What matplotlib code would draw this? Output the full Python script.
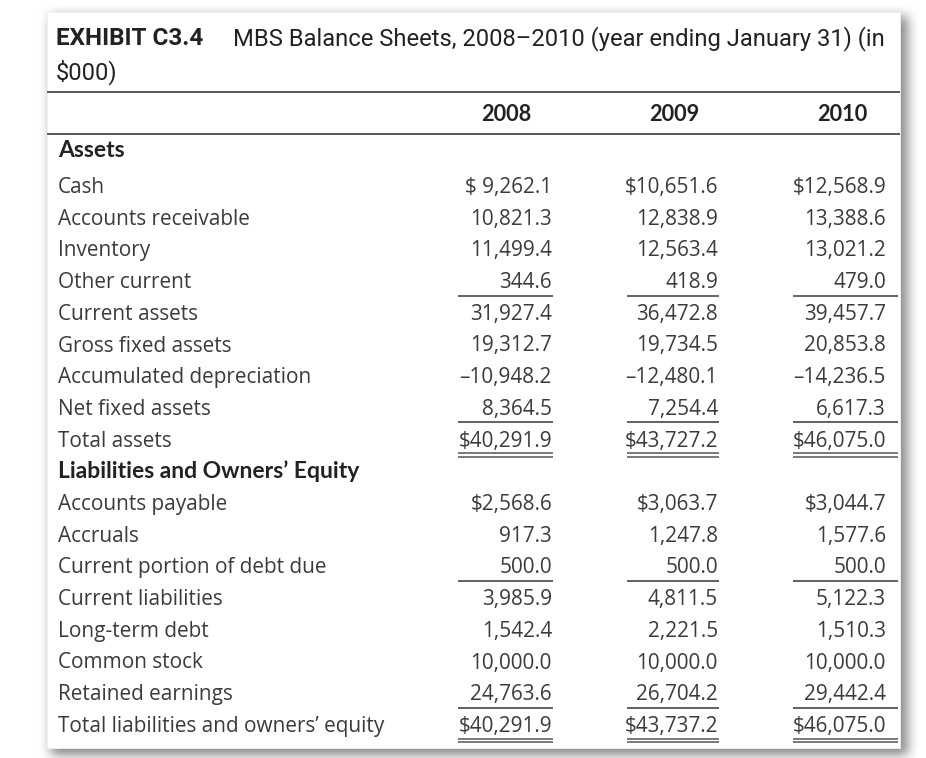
import numpy as np
import matplotlib.pyplot as plt

# ------------------------------------------------------------
# data
years = ["2008", "2009", "2010"]

row_labels = [
    "Assets",
    "Cash",
    "Accounts receivable",
    "Inventory",
    "Other current",
    "Current assets",
    "Gross fixed assets",
    "Accumulated depreciation",
    "Net fixed assets",
    "Total assets",
    "Liabilities and Owners\u2019 Equity",
    "Accounts payable",
    "Accruals",
    "Current portion of debt due",
    "Current liabilities",
    "Long-term debt",
    "Common stock",
    "Retained earnings",
    "Total liabilities and owners\u2019 equity",
]

vals_2008 = [None, 9262.1, 10821.3, 11499.4, 344.6, 31927.4, 19312.7, -10948.2, 8364.5, 40291.9,
             None, 2568.6, 917.3, 500.0, 3985.9, 1542.4, 10000.0, 24763.6, 40291.9]
vals_2009 = [None, 10651.6, 12838.9, 12563.4, 418.9, 36472.8, 19734.5, -12480.1, 7254.4, 43727.2,
             None, 3063.7, 1247.8, 500.0, 4811.5, 2221.5, 10000.0, 26704.2, 43737.2]
vals_2010 = [None, 12568.9, 13388.6, 13021.2, 479.0, 39457.7, 20853.8, -14236.5, 6617.3, 46075.0,
             None, 3044.7, 1577.6, 500.0, 5122.3, 1510.3, 10000.0, 29442.4, 46075.0]

section_rows = ["Assets", "Liabilities and Owners\u2019 Equity"]
dollar_rows = ["Cash", "Total assets", "Accounts payable", "Total liabilities and owners\u2019 equity"]
single_rule_rows = ["Other current", "Net fixed assets", "Current portion of debt due", "Retained earnings"]
double_rule_rows = ["Total assets", "Total liabilities and owners\u2019 equity"]

title_bold = "EXHIBIT C3.4"
title_rest = "MBS Balance Sheets, 2008\u20132010 (year ending January 31) (in"
title_line2 = "$000)"

# ------------------------------------------------------------
W, H = 926, 758
fig = plt.figure(figsize=(W / 100, H / 100), dpi=100)
ax = fig.add_axes([0, 0, 1, 1])
ax.set_xlim(0, W)
ax.set_ylim(H, 0)
ax.axis("off")
renderer = fig.canvas.get_renderer()


def text_w(t):
    return t.get_window_extent(renderer=renderer).width


# card + soft shadow
card = (47, 12, 900, 748)  # x0, y0, x1, y1
yy, xx = np.mgrid[0:H, 0:W]
mask = ((xx >= card[0] + 4) & (xx <= card[2] + 7) & (yy >= card[1] + 4) & (yy <= card[3] + 7)).astype(float)
k = np.ones(13) / 13
for _ in range(2):
    mask = np.apply_along_axis(lambda r: np.convolve(r, k, mode="same"), 1, mask)
    mask = np.apply_along_axis(lambda c: np.convolve(c, k, mode="same"), 0, mask)
shadow = 1 - 0.45 * mask
ax.imshow(np.dstack([shadow] * 3), extent=(0, W, H, 0), zorder=0, interpolation="bilinear")
ax.add_patch(plt.Rectangle((card[0], card[1]), card[2] - card[0], card[3] - card[1],
                           facecolor="white", edgecolor="#f2f2f2", lw=0.6, zorder=1))

title_font = "Roboto"
body_font = "Open Sans"
bold_font = "Lato"
txt_col = "#3b3b3b"
dark = "#222222"
rule_col = "#555555"

# title: fit size so that the bold part is ~148 px and the line ends near x=886
t1 = ax.text(56, 45, title_bold, fontsize=17, fontweight="bold", family=title_font,
             color=dark, va="baseline", ha="left", zorder=3)
t1.set_fontsize(17 * 148 / text_w(t1))
t2 = ax.text(233, 45, title_rest, fontsize=17, family=title_font,
             color=dark, va="baseline", ha="left", zorder=3)
t2.set_fontsize(17 * (886 - 233) / text_w(t2))
ax.text(56, 79, title_line2, fontsize=t2.get_fontsize(), family=title_font,
        color=dark, va="baseline", ha="left", zorder=3)

# top rules
ax.plot([card[0], card[2]], [92, 92], color=rule_col, lw=1.4, zorder=3, solid_capstyle="butt")
ax.plot([card[0], card[2]], [134, 134], color=rule_col, lw=1.4, zorder=3, solid_capstyle="butt")

# body font size fitted on the longest label (~325 px in the reference)
probe = ax.text(0, 0, row_labels[-1], fontsize=13, family=body_font)
fs = 13 * 325 / text_w(probe)
probe.remove()
# bold section label fitted (~302 px in the reference)
probe = ax.text(0, 0, section_rows[1], fontsize=13, fontweight="bold", family=bold_font)
fsb = 13 * 302 / text_w(probe)
probe.remove()

# column geometry
col_right = [552, 718, 886]
head_right = [531, 699, 867]
rule_span = [(458, 553), (627, 719), (793, 898)]

for yr, xr in zip(years, head_right):
    ax.text(xr, 121, yr, fontsize=fsb * 0.95, fontweight="bold", family=bold_font, color=dark,
            ha="right", va="baseline", zorder=3)


def fmt(v, dollar, pad):
    s = f"{abs(v):,.1f}"
    if v < 0:
        s = "\u2013" + s
    if dollar:
        s = ("$ " if pad else "$") + s
    return s


cols = [vals_2008, vals_2009, vals_2010]
first_base, dy = 193, 31.7
for i, lab in enumerate(row_labels):
    y = 157 if i == 0 else first_base + (i - 1) * dy   # text baseline
    if lab in section_rows:
        ax.text(58, y, lab, fontsize=fsb, fontweight="bold", family=bold_font, color=dark,
                ha="left", va="baseline", zorder=3)
        continue
    ax.text(58, y, lab, fontsize=fs, family=body_font, color=txt_col,
            ha="left", va="baseline", zorder=3)
    for j, col in enumerate(cols):
        nxt = col[i + 1] if i + 1 < len(col) else None
        pad = abs(col[i]) < 10000 and nxt is not None and abs(nxt) >= 10000
        ax.text(col_right[j], y, fmt(col[i], lab in dollar_rows, pad), fontsize=fs, family=body_font,
                color=txt_col, ha="right", va="baseline", zorder=3)
        x0, x1 = rule_span[j]
        if lab in single_rule_rows:
            ax.plot([x0, x1], [y + 7.5, y + 7.5], color=rule_col, lw=1.3, zorder=3,
                    solid_capstyle="butt")
        if lab in double_rule_rows:
            for off in (6.8, 10.0):
                ax.plot([x0, x1], [y + off, y + off], color=rule_col, lw=1.1, zorder=3,
                        solid_capstyle="butt")

fig.savefig("out.png", dpi=100)
